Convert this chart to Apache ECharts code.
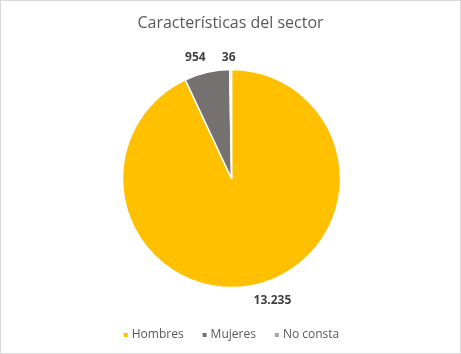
<!DOCTYPE html>
<html lang="es">
<head>
    <meta charset="UTF-8">
    <title>Características del sector</title>
    <style>
        html, body { margin: 0; padding: 0; background: #fff; }
        #chart {
            width: 459px;
            height: 352px;
            border: 1px solid #d9d9d9;
        }
    </style>
</head>
<body>
    <div id="chart"></div>
    <script src="https://cdn.jsdelivr.net/npm/echarts@6/dist/echarts.min.js"></script>
    <script>
        // datos
        var categorias = ['Hombres', 'Mujeres', 'No consta'];
        var valores = [13235, 954, 36];
        var colores = ['#FFC000', '#767171', '#A5A5A5'];
        // ajuste de etiquetas (largo de la linea, distancia)
        var largoEtiqueta = [16, 15, 12];
        var distEtiqueta = [-5, -2, -5];

        function miles(v) {
            return String(v).replace(/\B(?=(\d{3})+(?!\d))/g, '.');
        }

        var chart = echarts.init(document.getElementById('chart'));

        var datos = categorias.map(function (nombre, i) {
            return {
                name: nombre,
                value: valores[i],
                itemStyle: { color: colores[i] },
                label: { distanceToLabelLine: distEtiqueta[i] },
                labelLine: { length: largoEtiqueta[i], length2: 0 }
            };
        });

        var option = {
            animation: false,
            title: {
                text: 'Características del sector',
                left: 'center',
                top: 9,
                textStyle: {
                    fontFamily: 'Open Sans',
                    fontSize: 16,
                    fontWeight: 'normal',
                    color: '#595959'
                }
            },
            legend: {
                bottom: 7,
                left: 'center',
                itemWidth: 6,
                itemHeight: 6,
                itemGap: 17,
                icon: 'rect',
                textStyle: {
                    fontFamily: 'Open Sans',
                    fontSize: 12,
                    color: '#595959',
                    padding: [0, 0, 0, -2]
                },
                data: categorias
            },
            series: [{
                type: 'pie',
                center: [230.5, 177.5],
                radius: 109,
                startAngle: 90,
                clockwise: true,
                avoidLabelOverlap: false,
                itemStyle: { borderColor: '#fff', borderWidth: 1.5 },
                label: {
                    show: true,
                    position: 'outside',
                    formatter: function (p) { return miles(p.value); },
                    fontFamily: 'Open Sans',
                    fontSize: 12,
                    fontWeight: 'bold',
                    color: '#404040'
                },
                labelLine: { show: false },
                emphasis: { disabled: true },
                data: datos
            }]
        };

        chart.setOption(option);
    </script>
</body>
</html>
